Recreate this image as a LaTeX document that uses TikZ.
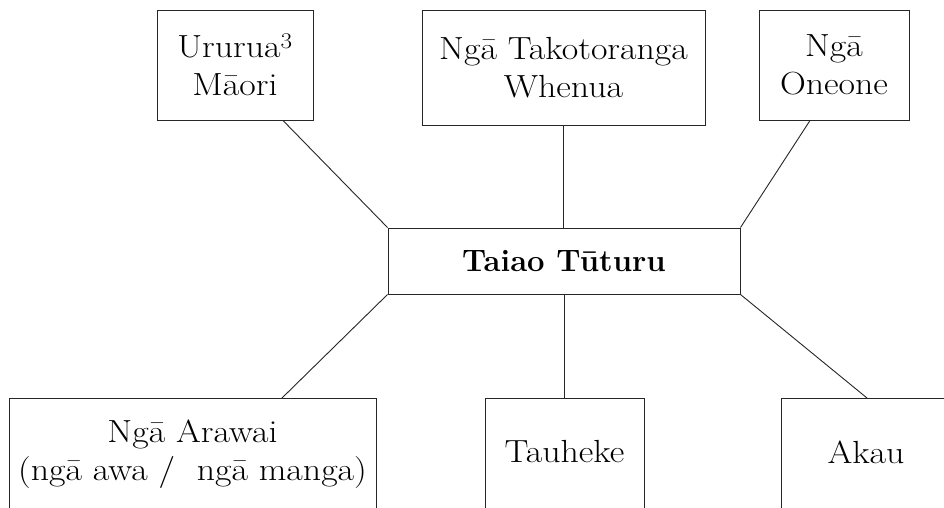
\documentclass[tikz,border=0pt]{standalone}
\usepackage{fontspec}
\setmainfont{Latin Modern Roman}[FakeStretch=1.12]
\newfontfamily\plainlm{Latin Modern Roman}
\begin{document}
\begin{tikzpicture}[x=1pt,y=-1pt,
  box/.style={draw=black!85,line width=1pt,inner sep=0pt,align=center,
    font=\fontsize{32}{38}\selectfont},
  lbl/.style={inner sep=0pt,align=center,font=\fontsize{32}{38}\selectfont},
  link/.style={draw=black!85,line width=0.9pt}]
\clip (0,0) rectangle (944,507);
\fill[white] (0,0) rectangle (944,507);
% top row
\node[box,minimum width=156pt,minimum height=110pt] (ururua) at (235,65) {Ururua\textsuperscript{3}\\Māori};
\node[box,minimum width=283pt,minimum height=115pt] (whenua) at (563.5,67.5) {Ngā Takotoranga\\Whenua};
\node[box,minimum width=150pt,minimum height=110pt] (oneone) at (834,65) {Ngā\\Oneone};
% centre
\node[box,minimum width=352pt,minimum height=66pt,font=\plainlm\fontsize{31}{37}\selectfont\bfseries] (taiao) at (564,261) {Taiao Tūturu};
% bottom row (boxes run off the lower edge)
\node[box,anchor=north west,minimum width=367pt,minimum height=140pt] (arawai) at (9,398) {};
\node[lbl] (arawaitxt) at (192.5,454) {Ngā Arawai\\(ngā awa /\ \ ngā manga)};
\node[box,anchor=north west,minimum width=159pt,minimum height=140pt] (tauheke) at (485,398) {};
\node[lbl] (tauheketxt) at (564.5,452) {Tauheke};
\node[box,anchor=north west,minimum width=220pt,minimum height=140pt] (akau) at (781,398) {};
\node[lbl] (akautxt) at (866,452) {Akau};
% connectors
\draw[link] ([xshift=48pt]ururua.south) -- (taiao.north west);
\draw[link] (whenua.south) -- (whenua.south |- taiao.north);
\draw[link] ([xshift=-24pt]oneone.south) -- (taiao.north east);
\draw[link] (taiao.south west) -- ([xshift=273pt]arawai.north west);
\draw[link] (taiao.south) -- (taiao.south |- tauheke.north);
\draw[link] (taiao.south east) -- ([xshift=86pt]akau.north west);
\end{tikzpicture}
\end{document}
